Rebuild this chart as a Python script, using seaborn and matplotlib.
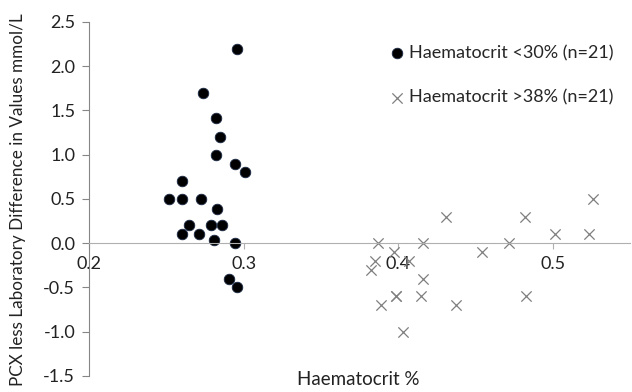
import pandas as pd
import matplotlib.pyplot as plt
import seaborn as sns

# Haematocrit < 30% group (black dots)
low_hct = [0.2955, 0.2735, 0.282, 0.285, 0.282, 0.2946, 0.301, 0.2598,
           0.252, 0.260, 0.2723, 0.283, 0.2647, 0.2598, 0.2713, 0.2787,
           0.2862, 0.2808, 0.2946, 0.2905, 0.2957]
low_diff = [2.2, 1.7, 1.41, 1.2, 1.0, 0.9, 0.8, 0.7,
            0.5, 0.5, 0.5, 0.39, 0.2, 0.1, 0.1, 0.2,
            0.2, 0.04, 0.0, -0.4, -0.5]

# Haematocrit > 38% group (grey crosses)
high_hct = [0.5263, 0.4307, 0.4819, 0.5015, 0.5237, 0.3868, 0.4157,
            0.4714, 0.3972, 0.4542, 0.3852, 0.4068, 0.3821, 0.4157,
            0.3985, 0.3985, 0.4148, 0.4824, 0.3888, 0.4376, 0.4028]
high_diff = [0.5, 0.3, 0.3, 0.1, 0.1, 0.0, 0.0,
             0.0, -0.1, -0.1, -0.2, -0.2, -0.3, -0.4,
             -0.6, -0.6, -0.6, -0.6, -0.7, -0.7, -1.0]

low_label = 'Haematocrit <30% (n=21)'
high_label = 'Haematocrit >38% (n=21)'

df = pd.DataFrame({
    'hct': low_hct + high_hct,
    'diff': low_diff + high_diff,
    'group': [low_label] * len(low_hct) + [high_label] * len(high_hct),
})

sns.set_style('white')
plt.rcParams['font.family'] = ['Lato', 'DejaVu Sans']

fig = plt.figure(figsize=(6.32, 3.92), dpi=100)
ax = fig.add_axes([0.141, 0.041, 0.856, 0.903])

sns.scatterplot(data=df[df['group'] == low_label], x='hct', y='diff',
                color='black', marker='o', s=58, edgecolor='#1a2a44',
                linewidth=0.6, label=low_label, ax=ax)
sns.scatterplot(data=df[df['group'] == high_label], x='hct', y='diff',
                color='#7f7f7f', marker='x', s=55, linewidth=0.9,
                label=high_label, ax=ax)

ax.set_xlim(0.2, 0.55)
ax.set_ylim(-1.5, 2.5)
ax.set_xticks([0.2, 0.3, 0.4, 0.5])
ax.set_xticklabels(['0.2', '0.3', '0.4', '0.5'])
ax.set_yticks([-1.5, -1.0, -0.5, 0.0, 0.5, 1.0, 1.5, 2.0, 2.5])
ax.set_yticklabels(['-1.5', '-1.0', '-0.5', '0.0', '0.5', '1.0', '1.5', '2.0', '2.5'])

# x axis crosses at y = 0
ax.spines['bottom'].set_position(('data', 0))
ax.spines['bottom'].set_color('#b0b0b0')
ax.spines['left'].set_color('#868686')
ax.spines['top'].set_visible(False)
ax.spines['right'].set_visible(False)
ax.tick_params(axis='y', direction='out', length=5, color='#868686',
               labelsize=13, left=True, pad=5, labelcolor='#222222')
ax.tick_params(axis='x', direction='out', length=4, color='#b0b0b0',
               labelsize=13, bottom=True, pad=5, labelcolor='#222222')

ax.set_xlabel('')
ax.set_ylabel('')
fig.text(0.567, 0.033, 'Haematocrit %', ha='center', va='center',
         fontsize=13.5, color='#222222')
fig.text(0.029, 0.49, 'PCX less Laboratory Difference in Values mmol/L',
         rotation=90, ha='center', va='center', fontsize=12.3, color='#222222')

ax.legend(loc='upper left', bbox_to_anchor=(0.54, 0.955), frameon=False,
          fontsize=13, handlelength=1.0, handletextpad=0.15,
          labelspacing=1.55, borderaxespad=0)

plt.savefig('out.png', dpi=100)
